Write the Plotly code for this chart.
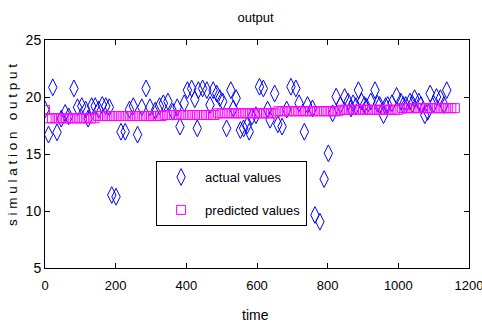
import plotly.graph_objects as go

actual_time = [0, 10, 22, 34, 46, 57, 67, 82, 92, 104, 115, 122, 132, 142, 152, 162, 172, 182,
               189, 201, 215, 227, 239, 250, 262, 274, 286, 297, 312, 324, 335, 348, 362, 374,
               382, 394, 403, 415, 424, 431, 434, 446, 458, 467, 476, 486, 495, 503, 514, 526,
               533, 541, 553, 562, 572, 578, 586, 597, 607, 618, 630, 637, 650, 659, 671, 684,
               696, 710, 719, 734, 743, 757, 764, 778, 790, 802, 814, 824, 836, 848, 858, 866,
               872, 880, 887, 896, 904, 910, 922, 934, 941, 947, 958, 964, 970, 982, 995, 1007,
               1014, 1021, 1033, 1040, 1046, 1058, 1064, 1075, 1083, 1090, 1100, 1108, 1119,
               1129, 1137]
actual_values = [18.9, 16.7, 20.85, 16.9, 18.1, 18.6, 18.3, 20.75, 19.1, 19.2, 18.9, 18.1, 19.2,
                 19.2, 18.9, 19.3, 19.2, 19.1, 11.4, 11.25, 16.95, 16.95, 18.9, 19.2, 16.7, 19.1,
                 20.75, 19.1, 18.8, 19.2, 19.45, 19.6, 18.7, 19.1, 17.4, 19.45, 20.6, 20.75, 19.8,
                 17.25, 20.6, 20.75, 20.6, 19.3, 20.6, 20.3, 19.9, 19.6, 17.25, 20.6, 19.0, 19.9,
                 17.1, 17.25, 17.5, 16.95, 18.3, 18.4, 20.9, 20.75, 18.9, 18.0, 20.3, 17.6, 17.4,
                 18.9, 20.9, 20.75, 19.45, 16.95, 19.3, 19.0, 9.65, 9.06, 12.8, 15.06, 18.57, 20.03,
                 19.3, 20.0, 19.6, 19.0, 19.45, 19.2, 20.6, 19.6, 19.3, 19.15, 19.6, 20.6, 19.4,
                 19.3, 18.4, 19.2, 19.3, 19.45, 20.1, 19.6, 19.3, 19.3, 19.6, 19.4, 19.9, 19.6,
                 19.3, 18.4, 18.7, 20.3, 19.4, 20.0, 19.9, 19.3, 20.6]

predicted_time = list(range(0, 1170, 10))
predicted_values = [18.86,
                    18.13, 18.13, 18.13, 18.13, 18.13, 18.13, 18.13, 18.13, 18.13, 18.13, 18.13, 18.13, 18.13, 18.13,
                    18.33, 18.33, 18.33, 18.33, 18.33, 18.33, 18.33, 18.33, 18.33, 18.33, 18.33, 18.33, 18.33, 18.33,
                    18.33, 18.33, 18.33, 18.33, 18.33,
                    18.42, 18.42, 18.42, 18.42, 18.42, 18.42, 18.42, 18.42, 18.42, 18.42, 18.42, 18.42, 18.42, 18.42,
                    18.42,
                    18.57, 18.57, 18.57, 18.57, 18.57, 18.57, 18.57, 18.57, 18.57, 18.57, 18.57, 18.57, 18.57, 18.57,
                    18.57, 18.57, 18.57,
                    18.75, 18.75, 18.75, 18.75, 18.75, 18.75, 18.75, 18.75, 18.75, 18.75, 18.75, 18.75, 18.75, 18.75,
                    18.75, 18.75, 18.75, 18.75,
                    18.88, 18.88, 18.88, 18.88, 18.88, 18.88, 18.88, 18.88, 18.88, 18.88, 18.88, 18.88, 18.88, 18.88,
                    18.88, 18.88, 18.88,
                    19.02, 19.02, 19.02, 19.02, 19.02, 19.02, 19.02, 19.02, 19.02, 19.02, 19.02, 19.02, 19.02, 19.02,
                    19.02, 19.02]

x_ticks = [0, 200, 400, 600, 800, 1000, 1200]
y_ticks = [5, 10, 15, 20, 25]

FONT = "Liberation Sans, Arial, sans-serif"

fig = go.Figure()
fig.add_trace(go.Scatter(
    x=actual_time, y=actual_values, mode="markers", name="actual values",
    legendgroup="a",
    marker=dict(symbol="diamond-tall-open", size=12, color="#0000ff", line=dict(width=1, color="#0000ff")),
))
fig.add_trace(go.Scatter(
    x=predicted_time, y=predicted_values, mode="markers", name="predicted values",
    legendgroup="p",
    marker=dict(symbol="square-open", size=9, color="#ff00ff", line=dict(width=1, color="#ff00ff")),
))

axis_common = dict(
    showgrid=False, zeroline=False, showline=True, linecolor="black", linewidth=1,
    mirror="allticks", ticks="inside", ticklen=5, tickcolor="black", automargin=False,
)

fig.update_layout(
    width=482, height=329,
    margin=dict(l=45, r=13, t=40, b=61, autoexpand=False),
    paper_bgcolor="white", plot_bgcolor="white",
    title=dict(text="output", xref="paper", x=0.4965, xanchor="center",
               yref="container", y=0.947, yanchor="middle",
               font=dict(family=FONT, size=13, color="black")),
    xaxis=dict(range=[0, 1200], tickvals=x_ticks, ticklabelstandoff=5, ticklabeloverflow="allow",
               tickfont=dict(family=FONT, size=13, color="black"), **axis_common),
    yaxis=dict(range=[5, 25], tickvals=y_ticks,
               tickfont=dict(family=FONT, size=14, color="black"), **axis_common),
    annotations=[
        dict(text="time", xref="paper", yref="paper", x=0.4965, y=-0.206,
             xanchor="center", yanchor="middle", showarrow=False,
             font=dict(family=FONT, size=14, color="black")),
        dict(text="s i m u l a t i o n   o u t p u t", xref="paper", yref="paper",
             x=-0.0778, y=0.539, xanchor="center", yanchor="middle", textangle=-90,
             showarrow=False, font=dict(family=FONT, size=13.5, color="black")),
    ],
    legend=dict(x=0.262, y=0.469, xanchor="left", yanchor="top",
                bgcolor="white", bordercolor="black", borderwidth=1,
                font=dict(family=FONT, size=13, color="black"),
                traceorder="grouped", tracegroupgap=13, itemwidth=38),
    showlegend=True,
)

fig.write_html("out.html", config={"displayModeBar": False},
               post_script="document.body.style.margin='0';document.body.style.overflow='hidden';")
